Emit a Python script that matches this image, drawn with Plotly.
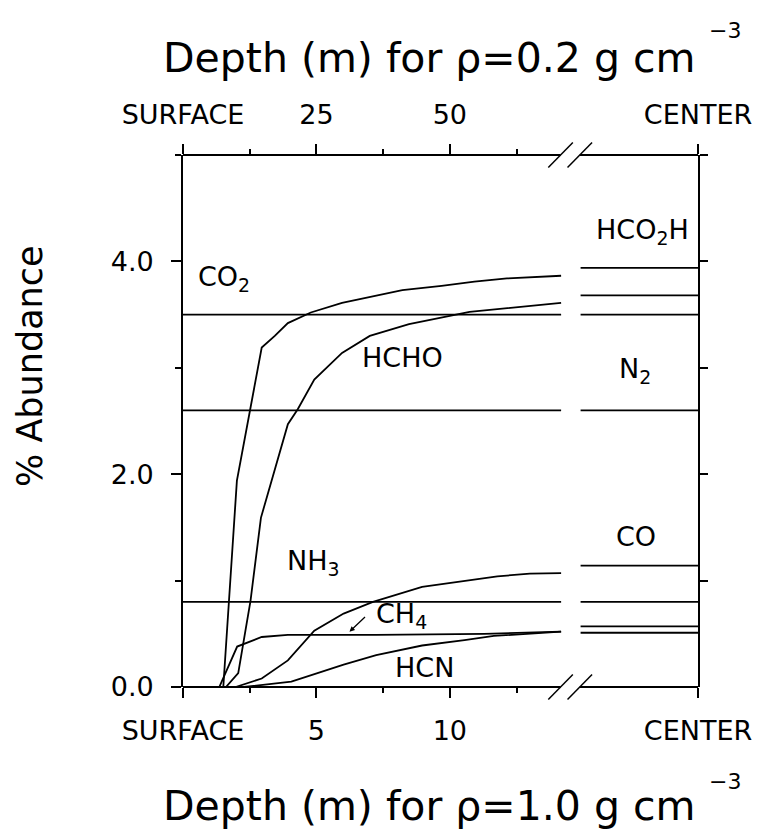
import plotly.graph_objects as go

# ---------------- data (bottom scale: depth in m for rho = 1.0 g cm^-3) -------------
density_ratio = 1.0 / 0.2          # top scale = bottom depth * ratio

hco2h_depth = [1.51, 2.02, 2.95, 3.44, 3.93, 4.49, 4.79, 5.96, 7.24, 8.22, 9.69, 10.92, 12.14, 14.17]
hco2h_value = [0.00, 1.94, 3.19, 3.30, 3.42, 3.49, 3.52, 3.61, 3.68, 3.73, 3.77, 3.81, 3.84, 3.865]

hcho_depth = [1.61, 2.07, 2.34, 2.53, 2.92, 3.93, 4.30, 4.92, 5.96, 7.00, 8.47, 9.69, 10.74, 14.17]
hcho_value = [0.00, 0.13, 0.53, 0.81, 1.59, 2.47, 2.61, 2.89, 3.14, 3.30, 3.41, 3.47, 3.525, 3.61]

co_depth = [1.97, 2.95, 3.93, 4.92, 6.02, 7.12, 8.96, 10.55, 11.78, 13.00, 14.17]
co_value = [0.00, 0.08, 0.25, 0.53, 0.69, 0.80, 0.94, 1.00, 1.04, 1.065, 1.07]

ch4_depth = [1.36, 2.03, 2.95, 3.93, 7.24, 11.29, 14.17]
ch4_value = [0.00, 0.38, 0.47, 0.49, 0.49, 0.50, 0.52]

hcn_depth = [2.28, 4.06, 5.04, 6.02, 7.24, 8.96, 10.55, 11.65, 14.17]
hcn_value = [0.00, 0.05, 0.13, 0.21, 0.30, 0.39, 0.44, 0.48, 0.52]

# constant abundances across the near-surface layer
const_names = ["CO2", "N2", "NH3"]
const_values = [3.50, 2.60, 0.80]

# abundances in the interior (right-hand segment, toward the center)
center_names = ["HCO2H", "HCHO", "CO2", "N2", "CO", "NH3", "CH4", "HCN"]
center_values = [3.94, 3.68, 3.50, 2.60, 1.14, 0.80, 0.57, 0.51]

bottom_ticks = [0, 5, 10]
y_ticks = [0.0, 2.0, 4.0]

# ---------------- layout constants ----------------
X_MAX = 19.3          # right edge (CENTER)
SURF_END = 14.17      # end of near-surface curves
BREAK1, BREAK2 = 14.15, 14.87
CENTER_START = 14.90
LINE = dict(color="black", width=1.8)
FONT = "DejaVu Sans"

fig = go.Figure()

for d, v in [(hco2h_depth, hco2h_value), (hcho_depth, hcho_value), (co_depth, co_value),
             (ch4_depth, ch4_value), (hcn_depth, hcn_value)]:
    fig.add_trace(go.Scatter(x=d, y=v, mode="lines", line=LINE, showlegend=False, hoverinfo="skip"))

for v in const_values:
    fig.add_trace(go.Scatter(x=[0, SURF_END], y=[v, v], mode="lines", line=LINE,
                             showlegend=False, hoverinfo="skip"))

for v in center_values:
    fig.add_trace(go.Scatter(x=[CENTER_START, X_MAX], y=[v, v], mode="lines", line=LINE,
                             showlegend=False, hoverinfo="skip"))

# invisible trace to activate secondary axes
fig.add_trace(go.Scatter(x=[0], y=[0], xaxis="x2", yaxis="y2", mode="markers",
                         marker=dict(opacity=0), showlegend=False, hoverinfo="skip"))

tickvals_x = bottom_ticks + [X_MAX]
bottom_text = ["SURFACE"] + [str(t) for t in bottom_ticks[1:]] + ["CENTER"]
top_text = ["SURFACE"] + [str(int(t * density_ratio)) for t in bottom_ticks[1:]] + ["CENTER"]
minor_x = [2.5, 7.5, 12.5]

tickfont = dict(family=FONT, size=27, color="black")

fig.update_layout(
    width=764, height=831,
    margin=dict(l=183, r=56, t=155, b=144),
    paper_bgcolor="white", plot_bgcolor="white",
    xaxis=dict(range=[0, X_MAX], tickvals=tickvals_x, ticktext=bottom_text,
               ticks="outside", ticklen=10, tickwidth=1.5, tickcolor="black",
               minor=dict(tickvals=minor_x, ticks="outside", ticklen=5, tickwidth=1.5, tickcolor="black"),
               showline=False, showgrid=False, zeroline=False, tickfont=tickfont,
               ticklabelstandoff=10),
    xaxis2=dict(range=[0, X_MAX], overlaying="x", side="top", tickvals=tickvals_x, ticktext=top_text,
                ticks="outside", ticklen=10, tickwidth=1.5, tickcolor="black",
                minor=dict(tickvals=minor_x, ticks="outside", ticklen=5, tickwidth=1.5, tickcolor="black"),
                showline=False, showgrid=False, zeroline=False, tickfont=tickfont,
                ticklabelstandoff=9),
    yaxis=dict(range=[0, 5], tickvals=y_ticks, ticktext=[f"{t:.1f}" for t in y_ticks],
               ticks="outside", ticklen=10, tickwidth=1.5, tickcolor="black",
               minor=dict(tickvals=[1, 3, 5], ticks="outside", ticklen=6, tickwidth=1.5, tickcolor="black"),
               showline=True, linecolor="black", linewidth=1.8,
               showgrid=False, zeroline=False, tickfont=tickfont, ticklabelstandoff=12),
    yaxis2=dict(range=[0, 5], overlaying="y", side="right", tickvals=[1, 2, 3, 4, 5],
                ticks="outside", ticklen=8, tickwidth=1.5, tickcolor="black",
                showticklabels=False, showline=True, linecolor="black", linewidth=1.8,
                showgrid=False, zeroline=False),
)

# broken x axis lines (bottom and top) with break marks
shapes = []
for yp in (0, 1):
    shapes.append(dict(type="line", xref="x", yref="paper", x0=0, x1=BREAK1, y0=yp, y1=yp, line=LINE))
    shapes.append(dict(type="line", xref="x", yref="paper", x0=BREAK2, x1=X_MAX, y0=yp, y1=yp, line=LINE))
    for b in (BREAK1, BREAK2):
        shapes.append(dict(type="line", xref="x", yref="paper", x0=b - 0.46, x1=b + 0.46,
                           y0=yp - 0.0235, y1=yp + 0.0235, line=dict(color="black", width=1.5)))
fig.update_layout(shapes=shapes)

# species labels
lab_font = dict(family=FONT, size=27, color="black")
labels = [
    ("CO<sub>2</sub>", 0.50, 3.84),
    ("HCHO", 6.62, 3.10),
    ("NH<sub>3</sub>", 3.82, 1.17),
    ("CH<sub>4</sub>", 7.17, 0.67),
    ("HCN", 7.87, 0.18),
    ("HCO<sub>2</sub>H", 15.40, 4.28),
    ("N<sub>2</sub>", 16.25, 2.97),
    ("CO", 16.14, 1.41),
]
for txt, x, y in labels:
    fig.add_annotation(text=txt, x=x, y=y, xref="x", yref="y", xanchor="left", yanchor="middle",
                       showarrow=False, font=lab_font)

# arrow from CH4 label to its curve
fig.add_annotation(x=6.24, y=0.52, xref="x", yref="y", ax=17, ay=-16, text="",
                   showarrow=True, arrowhead=2, arrowsize=0.8, arrowwidth=1.3, arrowcolor="black")

# axis titles (annotations, paper coords)
def px_to_paper(xpx, ypx):
    return (xpx - 183) / 525, (687 - ypx) / 532

title_font = dict(family=FONT, size=41, color="black")
sup_font = dict(family=FONT, size=22, color="black")

x, y = px_to_paper(434, 58)
fig.add_annotation(text="Depth (m) for ρ=0.2 g cm", x=x, y=y, xref="paper", yref="paper",
                   xanchor="center", yanchor="middle", showarrow=False, font=title_font)
x, y = px_to_paper(736, 30)
fig.add_annotation(text="−3", x=x, y=y, xref="paper", yref="paper",
                   xanchor="center", yanchor="middle", showarrow=False, font=sup_font)

x, y = px_to_paper(434, 806)
fig.add_annotation(text="Depth (m) for ρ=1.0 g cm", x=x, y=y, xref="paper", yref="paper",
                   xanchor="center", yanchor="middle", showarrow=False, font=title_font)
x, y = px_to_paper(736, 781)
fig.add_annotation(text="−3", x=x, y=y, xref="paper", yref="paper",
                   xanchor="center", yanchor="middle", showarrow=False, font=sup_font)

x, y = px_to_paper(27, 366)
fig.add_annotation(text="% Abundance", x=x, y=y, xref="paper", yref="paper", textangle=-90,
                   xanchor="center", yanchor="middle", showarrow=False,
                   font=dict(family=FONT, size=35, color="black"))

fig.write_html("out.html")
